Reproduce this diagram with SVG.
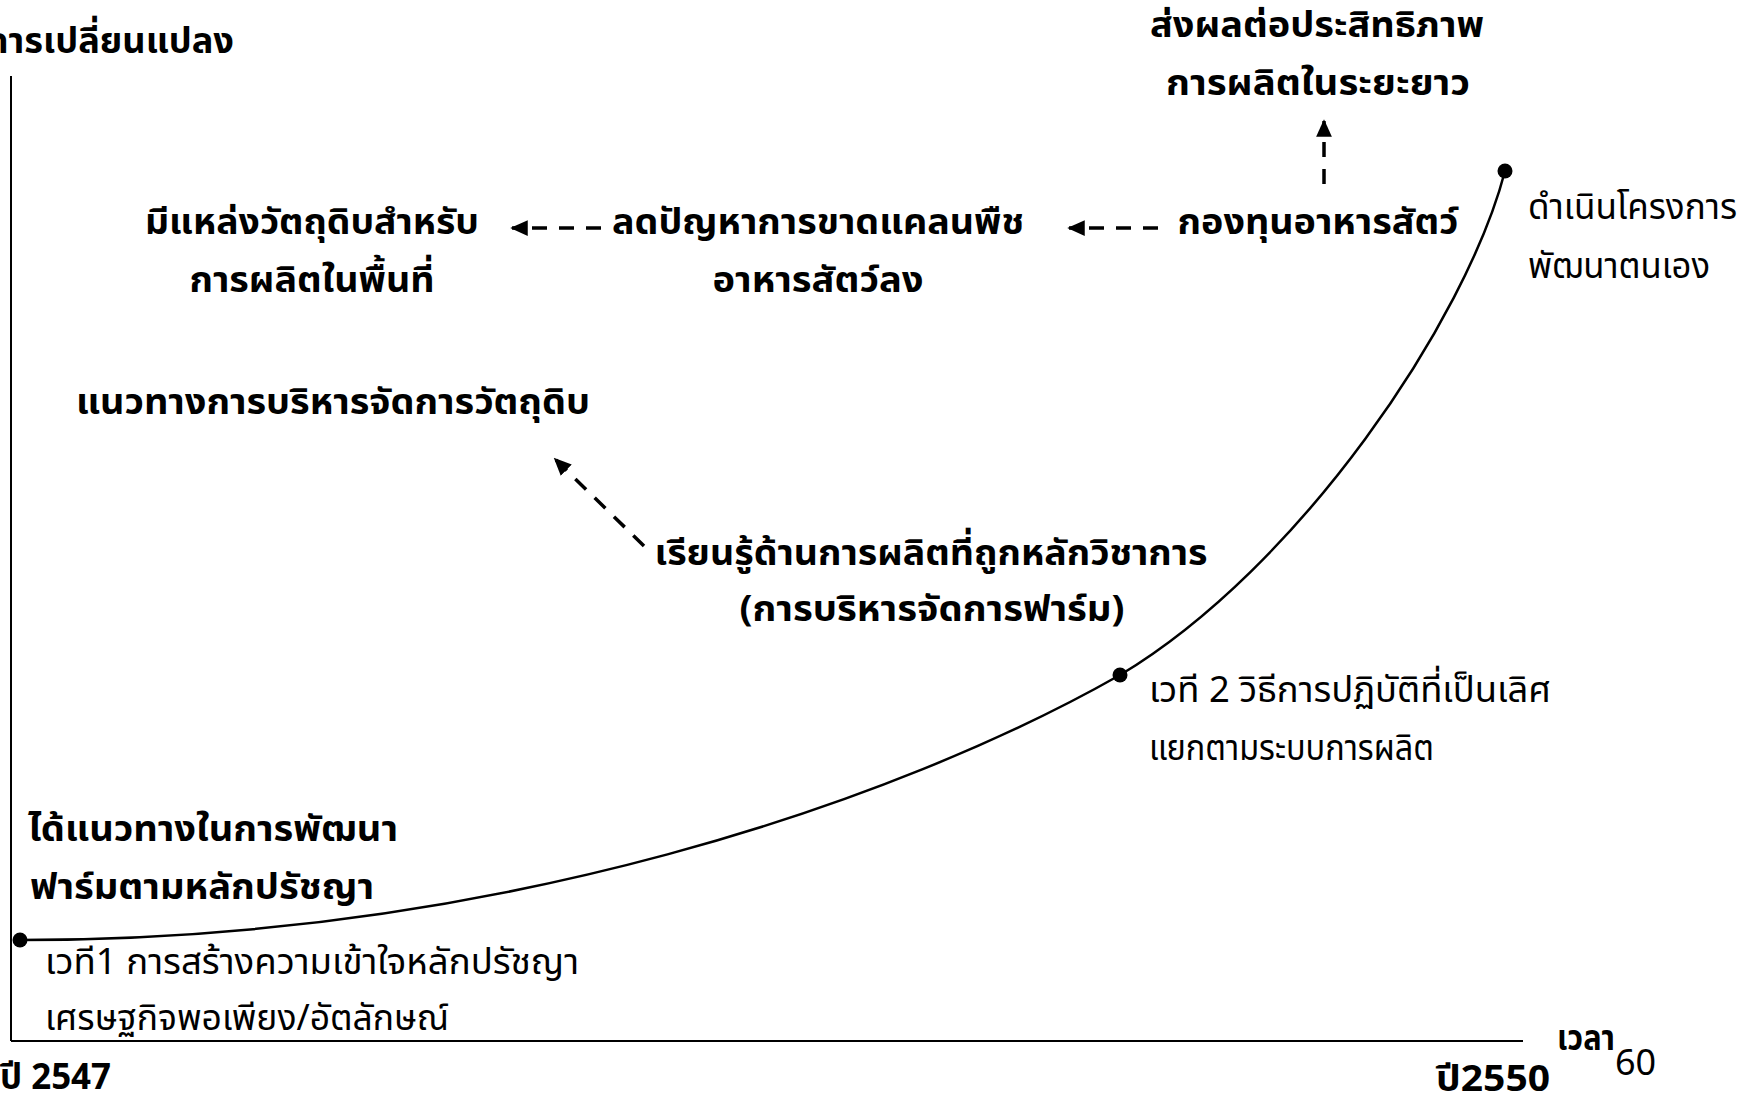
<svg xmlns="http://www.w3.org/2000/svg" width="1746" height="1099" viewBox="0 0 1746 1099">
<style>
text{font-family:"Noto Sans Thai","Noto Sans","DejaVu Sans",sans-serif;fill:#000}
.b{font-weight:bold;font-size:36px}
.r{font-weight:normal;font-size:36px}
.axis{stroke:#000;stroke-width:2;fill:none}
.curve{stroke:#000;stroke-width:2.5;fill:none}
.dash{stroke:#000;stroke-width:3.5;stroke-dasharray:15 12;fill:none}
</style>
<defs>
<marker id="ah" viewBox="0 0 10 10" refX="9" refY="5" markerWidth="5" markerHeight="5" orient="auto" markerUnits="strokeWidth">
<path d="M0,0.5 L10,5 L0,9.5 z" fill="#000"/>
</marker>
</defs>
<g id="axes">
<line class="axis" x1="11" y1="76" x2="11" y2="1041"/>
<line class="axis" x1="11" y1="1041" x2="1523" y2="1041"/>
</g>
<g id="connectors">
<path class="curve" d="M20,940 C500,940 900,800 1120,675 C1300,567 1466,321 1505,171"/>
<line class="dash" x1="1324" y1="184" x2="1324" y2="121" marker-end="url(#ah)"/>
<line class="dash" x1="601" y1="228" x2="512" y2="228" marker-end="url(#ah)"/>
<line class="dash" x1="1158" y1="228" x2="1069" y2="228" marker-end="url(#ah)"/>
<line class="dash" x1="644" y1="546" x2="555" y2="459" marker-end="url(#ah)"/>
</g>
<g id="dot1"><circle cx="20" cy="940" r="7.5"/></g>
<g id="dot2"><circle cx="1120" cy="675" r="7.5"/></g>
<g id="dot3"><circle cx="1505" cy="171" r="7.5"/></g>
<g id="n-ylabel"><text class="b" x="234" y="53" text-anchor="end" textLength="248" lengthAdjust="spacingAndGlyphs">การเปลี่ยนแปลง</text></g>
<g id="n-longterm">
<text class="b" x="1317" y="37" text-anchor="middle" textLength="334" lengthAdjust="spacingAndGlyphs">ส่งผลต่อประสิทธิภาพ</text>
<text class="b" x="1318" y="95" text-anchor="middle" textLength="304" lengthAdjust="spacingAndGlyphs">การผลิตในระยะยาว</text>
</g>
<g id="n-fund"><text class="b" x="1318" y="234" text-anchor="middle" textLength="281" lengthAdjust="spacingAndGlyphs">กองทุนอาหารสัตว์</text></g>
<g id="n-reduce">
<text class="b" x="818" y="234" text-anchor="middle" textLength="412" lengthAdjust="spacingAndGlyphs">ลดปัญหาการขาดแคลนพืช</text>
<text class="b" x="818" y="292" text-anchor="middle" textLength="211" lengthAdjust="spacingAndGlyphs">อาหารสัตว์ลง</text>
</g>
<g id="n-source">
<text class="b" x="312" y="234" text-anchor="middle" textLength="334" lengthAdjust="spacingAndGlyphs">มีแหล่งวัตถุดิบสำหรับ</text>
<text class="b" x="312" y="292" text-anchor="middle" textLength="245" lengthAdjust="spacingAndGlyphs">การผลิตในพื้นที่</text>
</g>
<g id="n-guideline"><text class="b" x="76" y="414" textLength="514" lengthAdjust="spacingAndGlyphs">แนวทางการบริหารจัดการวัตถุดิบ</text></g>
<g id="n-learn">
<text class="b" x="931" y="565" text-anchor="middle" textLength="553" lengthAdjust="spacingAndGlyphs">เรียนรู้ด้านการผลิตที่ถูกหลักวิชาการ</text>
<text class="b" x="932" y="621" text-anchor="middle" textLength="385" lengthAdjust="spacingAndGlyphs">(การบริหารจัดการฟาร์ม)</text>
</g>
<g id="n-self">
<text class="r" x="1528" y="219" textLength="209" lengthAdjust="spacingAndGlyphs">ดำเนินโครงการ</text>
<text class="r" x="1528" y="278" textLength="182" lengthAdjust="spacingAndGlyphs">พัฒนาตนเอง</text>
</g>
<g id="n-stage2">
<text class="r" x="1149" y="702" textLength="402" lengthAdjust="spacingAndGlyphs">เวที 2 วิธีการปฏิบัติที่เป็นเลิศ</text>
<text class="r" x="1149" y="760" textLength="285" lengthAdjust="spacingAndGlyphs">แยกตามระบบการผลิต</text>
</g>
<g id="n-result">
<text class="b" x="28" y="841" textLength="370" lengthAdjust="spacingAndGlyphs">ได้แนวทางในการพัฒนา</text>
<text class="b" x="30" y="899" textLength="344" lengthAdjust="spacingAndGlyphs">ฟาร์มตามหลักปรัชญา</text>
</g>
<g id="n-stage1">
<text class="r" x="45" y="974" textLength="534" lengthAdjust="spacingAndGlyphs">เวที1 การสร้างความเข้าใจหลักปรัชญา</text>
<text class="r" x="45" y="1030" textLength="404" lengthAdjust="spacingAndGlyphs">เศรษฐกิจพอเพียง/อัตลักษณ์</text>
</g>
<g id="n-time">
<text class="b" x="0" y="1089" font-size="30" textLength="111" lengthAdjust="spacingAndGlyphs">ปี 2547</text>
<text class="b" x="1436" y="1091" font-size="30" textLength="114" lengthAdjust="spacingAndGlyphs">ปี2550</text>
<text class="b" x="1557" y="1050" font-size="30" textLength="58" lengthAdjust="spacingAndGlyphs">เวลา</text>
<text class="r" x="1615" y="1075" font-size="34" font-family="Liberation Sans, sans-serif">60</text>
</g>
</svg>
